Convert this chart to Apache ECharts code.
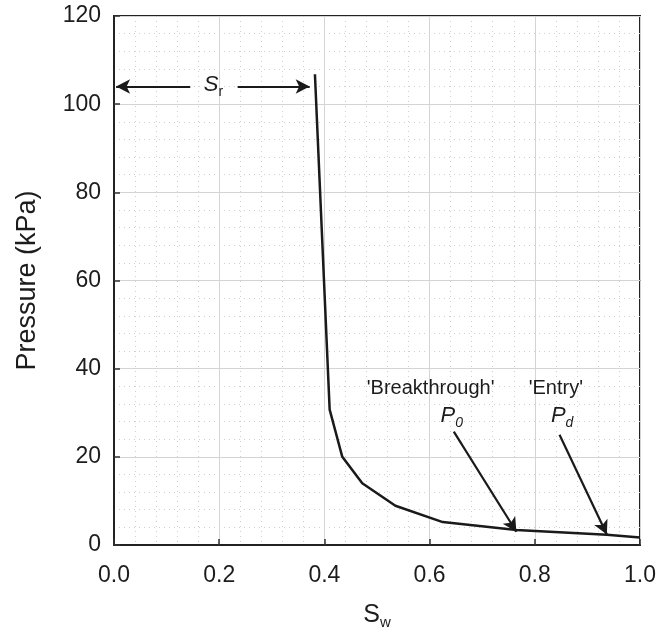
<!DOCTYPE html>
<html>
<head>
<meta charset="utf-8">
<script src="https://cdn.jsdelivr.net/npm/echarts@6/dist/echarts.min.js"></script>
<style>
  html, body { margin: 0; padding: 0; background: #fff; }
  #chart { width: 658px; height: 634px; }
</style>
</head>
<body>
<div id="chart"></div>
<script>
// Capillary pressure curve: water saturation vs. pressure
const saturation = [0.382, 0.410, 0.434, 0.472, 0.535, 0.625, 0.765, 0.937, 1.0];
const pressure   = [106.8, 30.7, 20.0, 14.0, 8.9, 5.2, 3.4, 2.3, 1.7];

const xTicks = { min: 0, max: 1, interval: 0.2 };
const yTicks = { min: 0, max: 120, interval: 20 };

// Annotation arrows: [fromX, fromP, toX, toP]
const residualArrowLeft  = [0.145, 104, 0.004, 104];
const residualArrowRight = [0.235, 104, 0.372, 104];
const breakthroughArrow  = [0.646, 25.7, 0.765, 3.0];
const entryArrow         = [0.847, 25.0, 0.937, 2.4];

// Annotation texts: [x, P, text]
const annotationTexts = [
  [0.189, 104.3, '{it|S}{sub|r}'],
  [0.602, 35.5, "'Breakthrough'"],
  [0.840, 35.5, "'Entry'"],
  [0.642, 29.2, '{it|P}{subIt|0}'],
  [0.852, 29.2, '{it|P}{subIt|d}']
];

const FONT = '"Liberation Sans", Arial, Helvetica, sans-serif';
const INK = '#1c1c1c';

function arrowPair(a) {
  return [{ coord: [a[0], a[1]] }, { coord: [a[2], a[3]] }];
}

const chart = echarts.init(document.getElementById('chart'), null, { renderer: 'canvas' });

chart.setOption({
  animation: false,
  backgroundColor: '#fff',
  grid: {
    left: 114, right: 18, top: 16, bottom: 89,
    outerBoundsMode: 'none',
    containLabel: false,
    show: true, borderColor: '#222', borderWidth: 2, backgroundColor: 'transparent'
  },
  xAxis: {
    type: 'value',
    min: xTicks.min, max: xTicks.max, interval: xTicks.interval,
    name: 'S{sub|w}',
    nameLocation: 'middle',
    nameGap: 56,
    nameTextStyle: {
      fontFamily: FONT, fontSize: 25, color: INK,
      rich: { sub: { fontFamily: FONT, fontSize: 15, verticalAlign: 'bottom', padding: [14, 0, 0, 0], color: INK } }
    },
    axisLine: { show: true, lineStyle: { color: '#222', width: 2 } },
    axisTick: { show: true, inside: true, length: 6, lineStyle: { color: '#333', width: 1.5 } },
    axisLabel: {
      fontFamily: FONT, fontSize: 23, color: INK, margin: 19,
      formatter: v => v.toFixed(1)
    },
    splitLine: { show: true, lineStyle: { color: '#d4d4d4', width: 1 } },
    minorTick: { show: false, splitNumber: 5 },
    minorSplitLine: { show: true, lineStyle: { color: '#cfcfcf', width: 1, type: [1, 4] } }
  },
  yAxis: {
    type: 'value',
    min: yTicks.min, max: yTicks.max, interval: yTicks.interval,
    name: 'Pressure (kPa)',
    nameLocation: 'middle',
    nameGap: 73,
    nameTextStyle: { fontFamily: FONT, fontSize: 27, color: INK },
    axisLine: { show: true, lineStyle: { color: '#222', width: 2 } },
    axisTick: { show: true, inside: true, length: 6, lineStyle: { color: '#333', width: 1.5 } },
    axisLabel: { fontFamily: FONT, fontSize: 23, color: INK, margin: 13 },
    splitLine: { show: true, lineStyle: { color: '#d4d4d4', width: 1 } },
    minorTick: { show: false, splitNumber: 5 },
    minorSplitLine: { show: true, lineStyle: { color: '#cfcfcf', width: 1, type: [1, 4] } }
  },
  series: [
    {
      type: 'line',
      data: saturation.map((s, i) => [s, pressure[i]]),
      symbol: 'none',
      lineStyle: { color: '#1a1a1a', width: 2.5 },
      z: 5,
      markLine: {
        silent: true,
        symbol: ['none', 'arrow'],
        symbolSize: [11, 14],
        label: { show: false },
        lineStyle: { color: '#1a1a1a', width: 2.2, type: 'solid' },
        data: [
          arrowPair(residualArrowLeft),
          arrowPair(residualArrowRight),
          arrowPair(breakthroughArrow),
          arrowPair(entryArrow)
        ]
      }
    },
    {
      type: 'scatter',
      data: annotationTexts.map(t => ({ value: [t[0], t[1]], text: t[2] })),
      symbolSize: 0,
      silent: true,
      z: 6,
      itemStyle: { opacity: 1, color: INK },
      label: {
        show: true,
        opacity: 1,
        position: 'inside',
        formatter: p => p.data.text,
        fontFamily: FONT, fontSize: 20, color: INK,
        rich: {
          it: { fontFamily: FONT, fontStyle: 'italic', fontSize: 22, color: INK },
          sub: { fontFamily: FONT, fontSize: 14, color: INK, verticalAlign: 'bottom', padding: [14, 0, 0, 0] },
          subIt: { fontFamily: FONT, fontStyle: 'italic', fontSize: 14, color: INK, verticalAlign: 'bottom', padding: [14, 0, 0, 0] }
        }
      }
    }
  ]
});
</script>
</body>
</html>
